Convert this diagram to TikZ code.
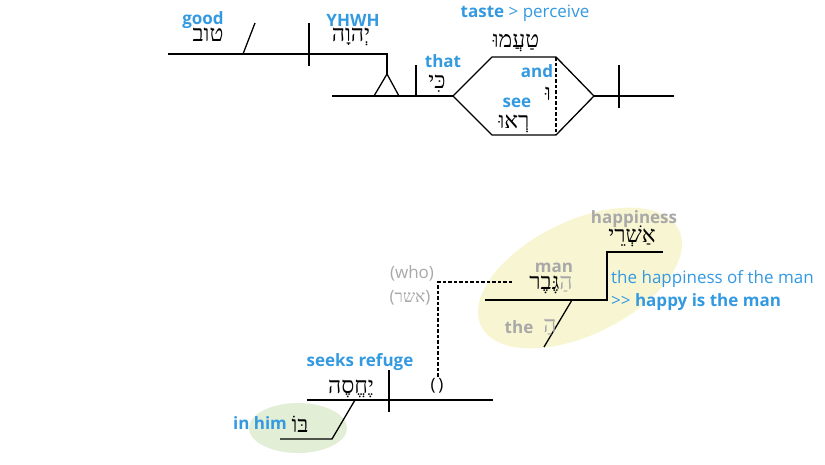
\documentclass[tikz,border=0pt]{standalone}
\usepackage{fontspec}
\setmainfont{Open Sans}
\newfontfamily\hebfont[Script=Hebrew]{Liberation Serif}
\TeXXeTstate=1
\definecolor{lblue}{HTML}{3399E0}
\definecolor{lgray}{HTML}{A8A8A8}
\definecolor{yfill}{HTML}{F8F6D2}
\definecolor{gfill}{HTML}{E2EED6}
\newcommand{\heb}[1]{\mbox{\hebfont\beginR #1\endR}}
\tikzset{
  lbl/.style={font=\fontsize{17}{19}\selectfont\bfseries, text=lblue, inner sep=0pt},
  glbl/.style={font=\fontsize{17}{19}\selectfont\bfseries, text=lgray, inner sep=0pt},
  rlbl/.style={font=\fontsize{17}{19}\selectfont, inner sep=0pt},
  hw/.style={font=\fontsize{23}{25}\selectfont, text=black, inner sep=0pt, anchor=base},
  ln/.style={draw=black, line width=1.3pt},
  dln/.style={draw=black, line width=1.2pt, dash pattern=on 3.5pt off 2pt},
}
\begin{document}
\begin{tikzpicture}[x=1pt,y=-1pt]
\useasboundingbox (0,0) rectangle (825,464);
% background ellipses
\fill[yfill, rotate around={26:(580,278)}] (580,278) ellipse [x radius=110pt, y radius=57pt];
\fill[gfill] (298,428) ellipse [x radius=49pt, y radius=25pt];

% ---------- top diagram ----------
\coordinate (a0) at (168,54);
\coordinate (a1) at (387,54);
\coordinate (dv1t) at (309,23); \coordinate (dv1b) at (309,66);
\coordinate (sl1a) at (243,54); \coordinate (sl1b) at (255,23);
\coordinate (tri) at (387,74);
\coordinate (tril) at (374,96); \coordinate (trir) at (399,96);
\coordinate (b0) at (332,96);
\coordinate (kt) at (416,65); \coordinate (kb) at (416,96);
\coordinate (hl) at (453,96); \coordinate (htl) at (492,57); \coordinate (htr) at (556,57);
\coordinate (hr) at (594,96); \coordinate (hbr) at (556,135); \coordinate (hbl) at (492,135);
\coordinate (e1) at (674,96);
\coordinate (dv2t) at (619,65); \coordinate (dv2b) at (619,108);

\draw[ln] (a0) -- (a1) -- (tri);
\draw[ln] (dv1t) -- (dv1b);
\draw[ln] (sl1a) -- (sl1b);
\draw[ln] (tri) -- (tril) -- (trir) -- cycle;
\draw[ln] (b0) -- (hl);
\draw[ln] (kt) -- (kb);
\draw[ln] (hl) -- (htl) -- (htr) -- (hr) -- (hbr) -- (hbl) -- cycle;
\draw[dln] (htr) -- (hbr);
\draw[ln] (hr) -- (e1);
\draw[ln] (dv2t) -- (dv2b);

\node[lbl] (good) at (203,20) {good};
\node[hw] (tov) at (208,41) {\heb{טוב}};
\node[lbl] (yhwhl) at (353,20) {YHWH};
\node[hw] (yhwh) at (351,41) {\heb{יְהוָה}};
\node[lbl] (that) at (443,61) {that};
\node[hw] (ki) at (437,88) {\heb{כִּי}};
\node[rlbl, text=lblue] (taste) at (525,13) {\textbf{taste} {>} perceive};
\node[hw] (taamu) at (516,47) {\heb{טַעֲמוּ}};
\node[lbl] (and) at (537,71) {and};
\node[hw] (ve) at (548,100) {\heb{וּ}};
\node[lbl] (see) at (517,103) {see};
\node[hw] (reu) at (514,128) {\heb{רְאוּ}};

% ---------- bottom diagram ----------
\coordinate (c1) at (607,252); \coordinate (c2) at (663,252);
\coordinate (c3) at (607,300); \coordinate (c4) at (485,300);
\coordinate (s2a) at (572,300); \coordinate (s2b) at (544,347);
\coordinate (w1) at (512,282); \coordinate (w2) at (438,282); \coordinate (w3) at (438,377);
\coordinate (d0) at (307,400); \coordinate (d1) at (493,400);
\coordinate (dv3t) at (389,370); \coordinate (dv3b) at (389,412);
\coordinate (s3a) at (355,400); \coordinate (s3b) at (332,439); \coordinate (s3c) at (280,439);

\draw[ln] (c4) -- (c3) -- (c1) -- (c2);
\draw[ln] (s2a) -- (s2b);
\draw[dln] (w1) -- (w2) -- (w3);
\draw[ln] (d0) -- (d1);
\draw[ln] (dv3t) -- (dv3b);
\draw[ln] (s3a) -- (s3b) -- (s3c);

\node[glbl] (happ) at (634,219) {happiness};
\node[hw] (ashre) at (632,242) {\heb{אַשְׁרֵי}};
\node[glbl] (man) at (554,268) {man};
\node[hw] (gever) at (551,289) {\heb{גֶּבֶר}\textcolor{lgray}{\heb{הַ}}};
\node[glbl] (the) at (519,327) {the};
\node[hw, text=lgray] (ha) at (550,332) {\heb{הַ}};
\node[rlbl, text=lgray] (who) at (412,273) {(who)};
\node[rlbl, text=lgray] (asher) at (410,298) {(\heb{אשר})};
\node[rlbl, text=lblue, anchor=west] (gloss1) at (611,279) {the happiness of the man};
\node[rlbl, text=lblue, anchor=west] (gloss2) at (611,302) {{>}{>} \textbf{happy is the man}};

\node[lbl] (seeks) at (360,362) {seeks refuge};
\node[hw] (yehese) at (351,393) {\heb{יֶחֱסֶה}};
\node[rlbl] (empty) at (437,386) {(\,)};
\node[lbl] (inhim) at (260,423) {in him};
\node[hw] (bo) at (300,432) {\heb{בּוֹ}};
\end{tikzpicture}
\end{document}
